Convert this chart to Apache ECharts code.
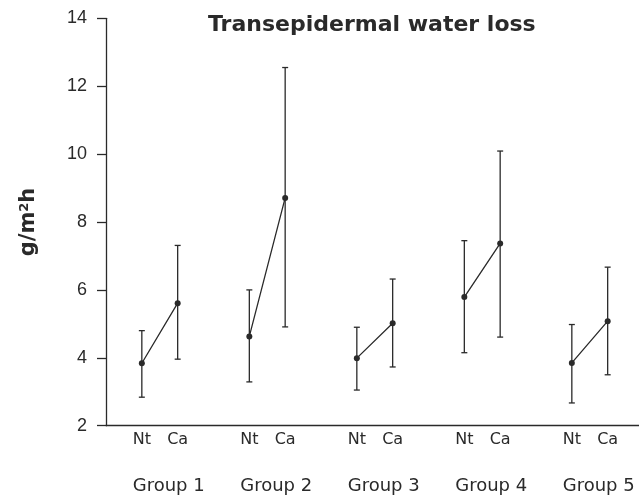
<!DOCTYPE html>
<html>
<head>
<meta charset="utf-8">
<script src="https://cdn.jsdelivr.net/npm/echarts@6/dist/echarts.min.js"></script>
<style>
  html, body { margin: 0; padding: 0; background: #fff; }
  #chart { width: 639px; height: 499px; }
</style>
</head>
<body>
<div id="chart"></div>
<script>
// Transepidermal water loss, g/m2h: mean and range per group, Nt vs Ca
const groups = ["Group 1", "Group 2", "Group 3", "Group 4", "Group 5"];
const conditions = ["Nt", "Ca"];

const ntMean = [3.84, 4.63, 3.99, 5.79, 3.85];
const ntLow = [2.84, 3.29, 3.05, 4.15, 2.67];
const ntHigh = [4.80, 6.00, 4.90, 7.45, 4.98];

const caMean = [5.61, 8.71, 5.02, 7.37, 5.08];
const caLow = [3.96, 4.91, 3.73, 4.61, 3.50];
const caHigh = [7.31, 12.55, 6.32, 10.09, 6.67];

const yTicks = [2, 4, 6, 8, 10, 12, 14];

const ink = "#2a2a2a";
const slot = 3; // Nt, Ca, gap

const lineData = [];
const barData = [];
groups.forEach((g, i) => {
  const xNt = slot * i + 1;
  const xCa = slot * i + 2;
  lineData.push([xNt, ntMean[i]], [xCa, caMean[i]], [xCa + 1, "-"]);
  barData.push([xNt, ntLow[i], ntHigh[i]], [xCa, caLow[i], caHigh[i]]);
});

const chart = echarts.init(document.getElementById("chart"), null, { renderer: "canvas" });

chart.setOption({
  animation: false,
  backgroundColor: "#fff",
  title: {
    text: "Transepidermal water loss",
    left: 203,
    top: 9,
    textStyle: {
      fontFamily: "DejaVu Sans",
      fontSize: 22,
      fontWeight: "bold",
      color: ink,
    },
  },
  grid: {
    left: 106,
    top: 18.3,
    width: 537.5,
    height: 407.4,
    containLabel: false,
    outerBoundsMode: "none",
  },
  xAxis: [
    {
      type: "value",
      min: 0,
      max: 15,
      interval: 1,
      splitLine: { show: false },
      axisTick: { show: false },
      axisLine: { lineStyle: { color: ink, width: 1.3 } },
      axisLabel: {
        showMinLabel: true,
        showMaxLabel: true,
        margin: 6,
        fontFamily: "DejaVu Sans",
        fontSize: 16,
        color: ink,
        formatter: (v) => {
          const r = Math.round(v) % slot;
          if (r === 1) return conditions[0];
          if (r === 2) return conditions[1];
          return "";
        },
      },
    },
    {
      type: "value",
      position: "bottom",
      offset: 47,
      min: 0,
      max: 15,
      interval: 0.25,
      splitLine: { show: false },
      axisTick: { show: false },
      axisLine: { show: false },
      axisLabel: {
        margin: 5,
        fontFamily: "DejaVu Sans",
        fontSize: 18,
        color: ink,
        formatter: (v) => {
          for (let i = 0; i < groups.length; i++) {
            if (Math.abs(v - (slot * i + 1.73)) < 0.13) return groups[i];
          }
          return "";
        },
      },
    },
  ],
  yAxis: {
    type: "value",
    min: 2,
    max: 14,
    interval: 2,
    name: "g/m{sup|2}h",
    nameLocation: "middle",
    nameRotate: 90,
    nameGap: 66,
    nameTextStyle: {
      fontFamily: "DejaVu Sans",
      fontSize: 21,
      fontWeight: "bold",
      color: ink,
      rich: {
        sup: {
          fontFamily: "DejaVu Sans",
          fontSize: 13,
          fontWeight: "bold",
          color: ink,
          verticalAlign: "top",
          padding: [0, 0, 9, 0],
        },
      },
    },
    splitLine: { show: false },
    axisLine: { show: true, lineStyle: { color: ink, width: 1.3 } },
    axisTick: { show: true, inside: false, length: 9, lineStyle: { color: ink, width: 1.3 } },
    axisLabel: {
      margin: 19,
      fontFamily: "Liberation Sans",
      fontSize: 18,
      color: ink,
      formatter: (v) => (yTicks.includes(v) ? String(v) : ""),
    },
  },
  series: [
    {
      type: "custom",
      xAxisIndex: 0,
      data: barData,
      renderItem: (params, api) => {
        const x = api.value(0);
        const lo = api.coord([x, api.value(1)]);
        const hi = api.coord([x, api.value(2)]);
        const cap = 3;
        const style = { stroke: ink, lineWidth: 1.3 };
        return {
          type: "group",
          children: [
            { type: "line", shape: { x1: lo[0], y1: lo[1], x2: hi[0], y2: hi[1] }, style },
            { type: "line", shape: { x1: lo[0] - cap, y1: lo[1], x2: lo[0] + cap, y2: lo[1] }, style },
            { type: "line", shape: { x1: hi[0] - cap, y1: hi[1], x2: hi[0] + cap, y2: hi[1] }, style },
          ],
        };
      },
      z: 2,
    },
    {
      type: "line",
      xAxisIndex: 0,
      data: lineData,
      connectNulls: false,
      symbol: "circle",
      symbolSize: 6,
      itemStyle: { color: ink },
      lineStyle: { color: ink, width: 1.3 },
      z: 3,
    },
  ],
});
</script>
</body>
</html>
